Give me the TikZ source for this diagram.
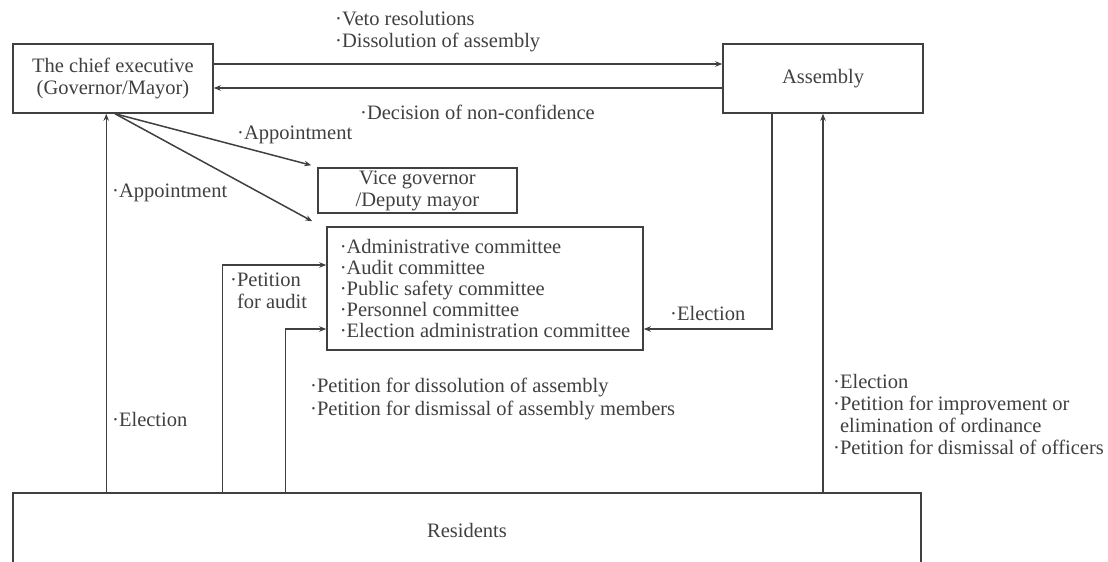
\documentclass[tikz,border=0pt]{standalone}
\usepackage{fontspec}
\setmainfont{Liberation Serif}
\usepackage{tikz}
\usetikzlibrary{arrows.meta, positioning}
\tikzset{>={Stealth[length=7pt,width=5.5pt]}}
\tikzset{
  box/.style={draw=black!75, line width=1.5pt, text=black!75, inner xsep=3pt, inner ysep=1pt},
  lab/.style={anchor=west, align=left, text=black!75, inner sep=0pt},
  link/.style={->, draw=black!75, line width=1.5pt}
}

\begin{document}
\begin{tikzpicture}[x=1pt, y=-1pt, font=\fontsize{20.5}{22}\selectfont]
\clip (0,0) rectangle (1108,562);
\node[box, minimum width=200pt, minimum height=69pt, align=center] (chief) at (113,78.5) {The chief executive\\(Governor/Mayor)};
\node[box, minimum width=200pt, minimum height=69pt] (assembly) at (823,78.5) {Assembly};
\node[box, minimum width=199pt, minimum height=45pt, align=center] (vice) at (417.5,190.5) {Vice governor\\/Deputy mayor};
\node[box, minimum width=316pt, minimum height=123pt, align=left, font=\fontsize{20.5}{21}\selectfont] (comm) at (485,288.5) {·Administrative committee\\·Audit committee\\·Public safety committee\\·Personnel committee\\·Election administration committee};
\node[box, minimum width=908pt, minimum height=74pt] (res) at (467,530) {Residents};

\node[lab] (veto) at (335,32) {·Veto resolutions\\·Dissolution of assembly};
\node[lab] (noconf) at (360,112) {·Decision of non-confidence};
\node[lab] (appt1) at (237,135) {·Appointment};
\node[lab] (appt2) at (112,193) {·Appointment};
\node[lab] (elect1) at (112,419) {·Election};
\node[lab] (audit) at (230,291) {·Petition\\\phantom{·}for audit};
\node[lab] (elect2) at (670,313) {·Election};
\node[lab, font=\fontsize{20.5}{23}\selectfont] (dissol) at (310,398.5) {·Petition for dissolution of assembly\\·Petition for dismissal of assembly members};
\node[lab] (right) at (833,414.5) {·Election\\·Petition for improvement or\\\phantom{·}elimination of ordinance\\·Petition for dismissal of officers};

\draw[link] ([yshift=14.5pt]chief.east) -- ([yshift=14.5pt]chief.east -| assembly.west);
\draw[link] ([yshift=-9.5pt]assembly.west) -- ([yshift=-9.5pt]assembly.west -| chief.east);
\draw[link] ([xshift=2pt]chief.south) -- ([xshift=-6pt,yshift=2pt]vice.north west);
\draw[link] ([xshift=2pt]chief.south) -- ([xshift=-14pt,yshift=5pt]comm.north west);
\draw[link] ([xshift=94pt]res.north west) -- ([xshift=94pt]res.north west |- chief.south);
\draw[link] ([xshift=210pt]res.north west) |- ([yshift=23.5pt]comm.west);
\draw[link] ([xshift=273pt]res.north west) |- ([yshift=-40.5pt]comm.west);
\draw[link] ([xshift=-51pt]assembly.south) |- ([yshift=-40.5pt]comm.east);
\draw[link] (res.north -| assembly.south) -- (assembly.south);
\end{tikzpicture}
\end{document}
